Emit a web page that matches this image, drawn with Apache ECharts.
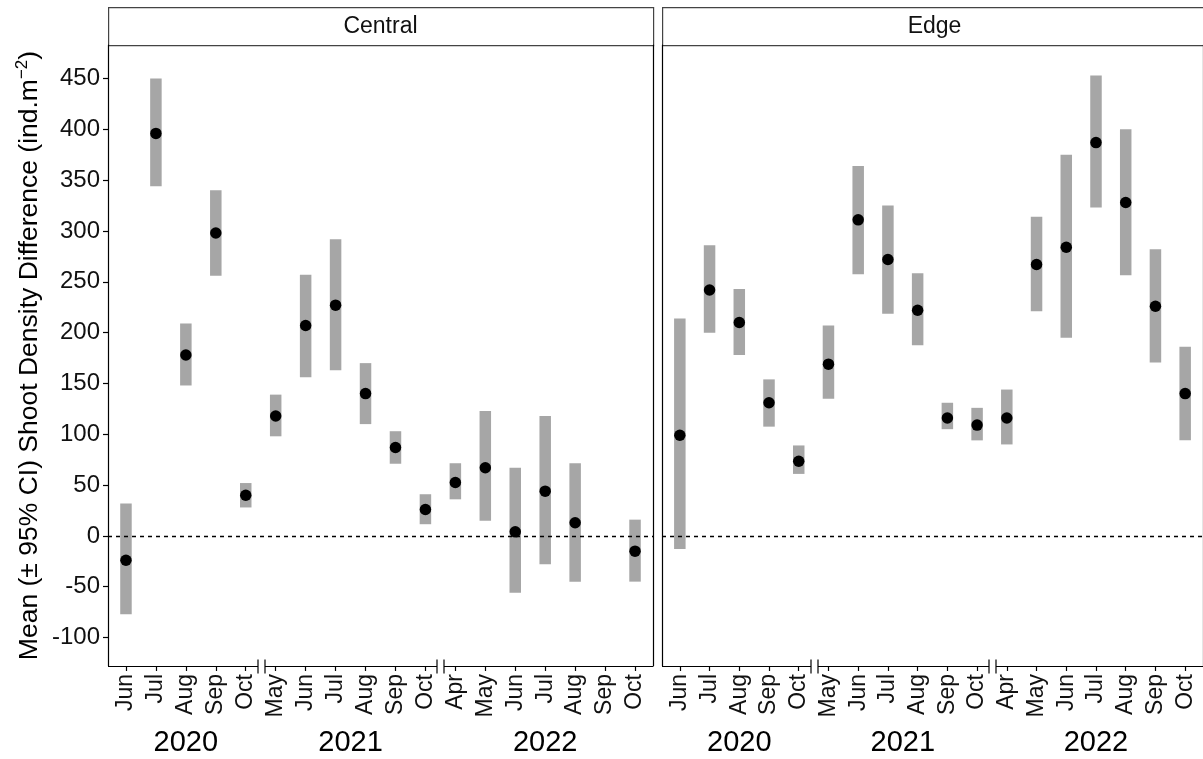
<!DOCTYPE html>
<html>
<head>
<meta charset="utf-8">
<title>Shoot density difference</title>
<script src="https://cdn.jsdelivr.net/npm/echarts@6/dist/echarts.min.js"></script>
<style>
  html, body { margin: 0; padding: 0; background: #fff; }
  #chart { width: 1203px; height: 759px; }
</style>
</head>
<body>
<div id="chart"></div>
<script>
// Sampling months (x positions 0..17) and the year each month belongs to
const months = ['Jun', 'Jul', 'Aug', 'Sep', 'Oct',
                'May', 'Jun', 'Jul', 'Aug', 'Sep', 'Oct',
                'Apr', 'May', 'Jun', 'Jul', 'Aug', 'Sep', 'Oct'];
const monthYears = [2020, 2020, 2020, 2020, 2020,
                    2021, 2021, 2021, 2021, 2021, 2021,
                    2022, 2022, 2022, 2022, 2022, 2022, 2022];

// Y-axis tick values
const yTicks = [-100, -50, 0, 50, 100, 150, 200, 250, 300, 350, 400, 450];

// Central site: mean and 95% CI bounds (null = no survey)
const centralMean  = [-24, 396, 178, 298, 40, 118, 207, 227, 140, 87, 26, 52.5, 67, 4, 44, 13, null, -15];
const centralLower = [-77, 344, 148, 256, 28, 98, 156, 163, 110, 71, 11.5, 36, 15, -56, -28, -45, null, -45];
const centralUpper = [32, 450, 209, 340, 52, 139, 257, 292, 170, 103, 41, 71.5, 123, 67, 118, 71.5, null, 16];

// Edge site: mean and 95% CI bounds
const edgeMean  = [99, 242, 210, 131, 73.5, 169, 311, 272, 222, 116, 109, 116, 267, 284, 387, 328, 226, 140];
const edgeLower = [-13, 200, 178, 107.5, 61, 135, 257.5, 218.5, 187.5, 105, 94, 90, 221, 195, 323, 256.5, 170.5, 94];
const edgeUpper = [214, 286, 243, 154, 89, 207, 364, 325, 258.5, 131, 126, 144, 314, 375, 453, 400, 282, 186];

const panels = ['Central', 'Edge'];

// ---- layout / style constants ----
const FONT = 'Liberation Sans, Arial, sans-serif';
const X_MIN = -0.6, X_MAX = 17.6;
const Y_MIN = -128, Y_MAX = 483;
const PANEL_LEFT = [108, 662];
const PANEL_W = 545;
const PANEL_TOP = 45, PANEL_H = 621;
const STRIP_TOP = 7;
const CI_COLOR = '#a6a6a6';

// Derived: year groups, label centres and the breaks between years
const yearList = [...new Set(monthYears)];
const yearCentres = yearList.map(y => {
  const idx = monthYears.map((v, i) => v === y ? i : -1).filter(i => i >= 0);
  return (idx[0] + idx[idx.length - 1]) / 2;
});
const yearBreaks = [];
for (let i = 1; i < monthYears.length; i++) {
  if (monthYears[i] !== monthYears[i - 1]) yearBreaks.push(i - 0.5);
}

function ciData(lo, hi) {
  const out = [];
  lo.forEach((v, i) => { if (v != null) out.push([i, lo[i], hi[i]]); });
  return out;
}
function meanData(m) {
  const out = [];
  m.forEach((v, i) => { if (v != null) out.push([i, v]); });
  return out;
}

// Bottom axis line, interrupted between years with small end caps
function brokenAxis(params, api) {
  const gap = 3.5, cap = 7;
  const y = Math.round(api.coord([X_MIN, Y_MIN])[1]) + 0.5;
  const segs = [];
  let start = api.coord([X_MIN, Y_MIN])[0];
  const children = [];
  const lineStyle = { stroke: '#000', lineWidth: 1.2 };
  yearBreaks.forEach(b => {
    const bx = Math.round(api.coord([b, Y_MIN])[0]) + 0.5;
    segs.push([start, bx - gap]);
    start = bx + gap;
    children.push({ type: 'line', shape: { x1: bx - gap, y1: y - cap, x2: bx - gap, y2: y + cap }, style: lineStyle });
    children.push({ type: 'line', shape: { x1: bx + gap, y1: y - cap, x2: bx + gap, y2: y + cap }, style: lineStyle });
  });
  segs.push([start, api.coord([X_MAX, Y_MIN])[0]]);
  segs.forEach(s => children.push({ type: 'line', shape: { x1: s[0], y1: y, x2: s[1], y2: y }, style: lineStyle }));
  return { type: 'group', children };
}

function ciBar(params, api) {
  const w = 11.5;
  const top = api.coord([api.value(0), api.value(2)]);
  const bot = api.coord([api.value(0), api.value(1)]);
  return {
    type: 'rect',
    shape: { x: top[0] - w / 2, y: top[1], width: w, height: bot[1] - top[1] },
    style: { fill: CI_COLOR }
  };
}

const grids = [], xAxes = [], yAxes = [], series = [], graphics = [];
const siteData = [
  { mean: centralMean, lo: centralLower, hi: centralUpper },
  { mean: edgeMean, lo: edgeLower, hi: edgeUpper }
];

panels.forEach((name, p) => {
  grids.push({ left: PANEL_LEFT[p], top: PANEL_TOP, width: PANEL_W, height: PANEL_H, containLabel: false });

  // month ticks and labels
  xAxes.push({
    gridIndex: p, type: 'value', min: X_MIN, max: X_MAX, position: 'bottom',
    axisLine: { show: false, onZero: false },
    splitLine: { show: false },
    axisTick: { show: true, customValues: months.map((m, i) => i), length: 5,
                lineStyle: { color: '#000', width: 1.2 } },
    axisLabel: { customValues: months.map((m, i) => i), rotate: 90, margin: 8,
                 fontFamily: FONT, fontSize: 23, color: '#111',
                 formatter: v => months[Math.round(v)] }
  });
  // year labels
  xAxes.push({
    gridIndex: p, type: 'value', min: X_MIN, max: X_MAX, position: 'bottom',
    axisLine: { show: false, onZero: false }, axisTick: { show: false }, splitLine: { show: false },
    axisLabel: { customValues: yearCentres, margin: 62, fontFamily: FONT, fontSize: 29, color: '#000',
                 formatter: v => String(yearList[yearCentres.indexOf(v)]) }
  });

  yAxes.push({
    gridIndex: p, type: 'value', min: Y_MIN, max: Y_MAX, position: 'left',
    axisLine: { show: true, onZero: false, lineStyle: { color: '#000', width: 1.2 } },
    splitLine: { show: false },
    axisTick: { show: p === 0, customValues: yTicks, length: 5, lineStyle: { color: '#000', width: 1.2 } },
    axisLabel: { show: p === 0, customValues: yTicks, margin: 8, fontFamily: FONT, fontSize: 24, color: '#111' }
  });
  yAxes.push({
    gridIndex: p, type: 'value', min: Y_MIN, max: Y_MAX, position: 'right',
    axisLine: { show: true, onZero: false, lineStyle: { color: '#000', width: 1.2 } },
    axisTick: { show: false }, axisLabel: { show: false }, splitLine: { show: false }
  });

  const d = siteData[p];
  series.push({
    type: 'custom', xAxisIndex: p * 2, yAxisIndex: p * 2, z: 2,
    renderItem: ciBar, encode: { x: 0, y: [1, 2] },
    data: ciData(d.lo, d.hi), silent: true
  });
  series.push({
    type: 'line', xAxisIndex: p * 2, yAxisIndex: p * 2, z: 3, data: [], silent: true,
    markLine: { silent: true, symbol: 'none', label: { show: false },
                lineStyle: { color: '#000', type: [4, 4], width: 1.3 },
                data: [{ yAxis: 0 }] }
  });
  series.push({
    type: 'scatter', xAxisIndex: p * 2, yAxisIndex: p * 2, z: 4,
    symbol: 'circle', symbolSize: 11.5, itemStyle: { color: '#000', opacity: 1 },
    data: meanData(d.mean), silent: true
  });
  series.push({
    type: 'custom', xAxisIndex: p * 2, yAxisIndex: p * 2, z: 5,
    renderItem: brokenAxis, data: [[0, 0]], silent: true
  });

  // facet strip
  graphics.push({
    type: 'rect', left: PANEL_LEFT[p], top: STRIP_TOP,
    shape: { width: PANEL_W, height: PANEL_TOP - STRIP_TOP },
    style: { fill: '#fff', stroke: '#444', lineWidth: 1.2 }
  });
  graphics.push({
    type: 'text', x: PANEL_LEFT[p] + PANEL_W / 2, y: (STRIP_TOP + PANEL_TOP) / 2 + 1,
    style: { text: name, fontFamily: FONT, fontSize: 23, fill: '#111',
             textAlign: 'center', textVerticalAlign: 'middle' }
  });
});

// y-axis title with superscript unit
graphics.push({
  type: 'text', x: 30, y: PANEL_TOP + PANEL_H / 2, rotation: Math.PI / 2,
  style: {
    text: 'Mean (± 95% CI) Shoot Density Difference (ind.m{sup|−2})',
    fontFamily: FONT, fontSize: 26.5, fill: '#000', lineHeight: 32,
    textAlign: 'center', textVerticalAlign: 'middle',
    rich: { sup: { fontFamily: FONT, fontSize: 17, verticalAlign: 'top', lineHeight: 32 } }
  }
});

const chart = echarts.init(document.getElementById('chart'), null, { renderer: 'canvas' });
chart.setOption({
  animation: false,
  backgroundColor: '#fff',
  grid: grids,
  xAxis: xAxes,
  yAxis: yAxes,
  series: series,
  graphic: graphics
});
</script>
</body>
</html>
